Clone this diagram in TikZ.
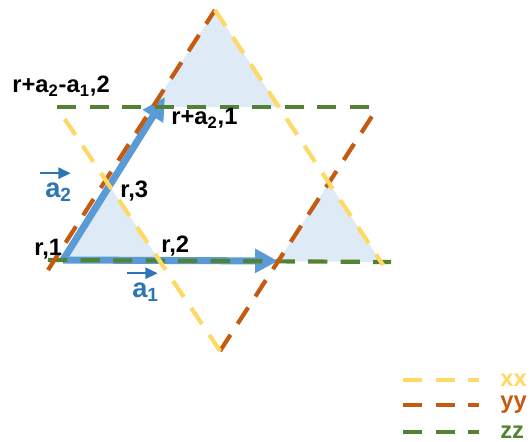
\documentclass[tikz,border=0pt]{standalone}
\usepackage{fontspec}
\setmainfont{Liberation Sans}
\usetikzlibrary{arrows.meta}
\definecolor{xxyellow}{RGB}{255,217,102}
\definecolor{yyorange}{RGB}{197,90,17}
\definecolor{zzgreen}{RGB}{84,130,53}
\definecolor{vecblue}{RGB}{91,155,213}
\definecolor{vectext}{RGB}{46,117,182}
\definecolor{cellfill}{RGB}{222,235,247}
\tikzset{
  bond/.style={line width=2.4pt,dash pattern=on 11pt off 7.5pt},
  xxbond/.style={bond,draw=xxyellow},
  yybond/.style={bond,draw=yyorange},
  zzbond/.style={bond,draw=zzgreen},
  cell/.style={fill=cellfill},
  latvec/.style={draw=vecblue,line width=4pt,-{Triangle[length=13pt,width=13pt]}},
  sitelbl/.style={font=\fontsize{13.5}{15}\selectfont\bfseries,inner sep=0pt,anchor=base west},
  veclbl/.style={sitelbl,font=\fontsize{15.5}{17}\selectfont\bfseries,text=vectext},
  overvec/.style={draw=vectext,line width=1pt,-{Triangle[length=7pt,width=6.5pt]}},
  keylbl/.style={font=\fontsize{13.5}{15}\selectfont\bfseries,inner sep=0pt,anchor=base west},
}
\begin{document}
\begin{tikzpicture}[x=0.02cm,y=-0.02cm]
  \useasboundingbox (0,0) rectangle (530,442);
  % corners of the two big triangles
  \coordinate (top) at (215,10);
  \coordinate (bot) at (220,351);
  \coordinate (zzA) at (57,107);
  \coordinate (zzB) at (382,107);
  \coordinate (zzC) at (48,260);
  \coordinate (zzD) at (391,262);
  \coordinate (yyA) at (48,270);
  \coordinate (yyB) at (378,107);
  \coordinate (xxA) at (58,109);
  \coordinate (xxB) at (383,265);
  \coordinate (r1) at (63,260);
  \coordinate (a1tip) at (278,261);
  \coordinate (a2tip) at (165,97);
  % shaded triangles
  \fill[cell] (top) -- (intersection of yyA--top and zzA--zzB) -- (intersection of top--xxB and zzA--zzB) -- cycle;
  \fill[cell] (r1) -- (intersection of xxA--bot and zzC--zzD) -- (intersection of xxA--bot and r1--a2tip) -- cycle;
  \fill[cell] (intersection of yyB--bot and zzC--zzD) -- (intersection of top--xxB and zzC--zzD) -- (intersection of yyB--bot and top--xxB) -- cycle;
  % lattice vectors
  \draw[latvec] (r1) -- (a1tip);
  \draw[latvec] (r1) -- (a2tip);
  % bonds
  \draw[zzbond] (zzA) -- (zzB);
  \draw[zzbond] (zzC) -- (zzD);
  \draw[yybond] (yyA) -- (top);
  \draw[yybond] (bot) -- (yyB);
  \draw[xxbond] (bot) -- (xxA);
  \draw[xxbond] (top) -- (xxB);
  % labels
  \node[sitelbl] (s1) at (34,255) {r,1};
  \node[sitelbl] (s2) at (161,252) {r,2};
  \node[sitelbl] (s3) at (120,197) {r,3};
  \node[sitelbl] (sa2) at (171,125) {r+a\textsubscript{2},1};
  \node[sitelbl] (sa2a1) at (12,93) {r+a\textsubscript{2}-a\textsubscript{1},2};
  \node[veclbl] (a2lbl) at (45,197) {a\textsubscript{2}};
  \node[veclbl] (a1lbl) at (132,297) {a\textsubscript{1}};
  \draw[overvec] ([xshift=-3pt,yshift=5pt]a2lbl.north west) -- ([xshift=-1pt,yshift=5pt]a2lbl.north east);
  \draw[overvec] ([xshift=-3pt,yshift=5pt]a1lbl.north west) -- ([xshift=-1pt,yshift=5pt]a1lbl.north east);
  % legend
  \node[keylbl,text=xxyellow] (xxkey) at (500,386) {xx};
  \node[keylbl,text=yyorange] (yykey) at (500,408) {yy};
  \node[keylbl,text=zzgreen] (zzkey) at (500,438) {zz};
  \coordinate (xxs) at (403,380);
  \coordinate (yys) at (403,405);
  \coordinate (zzs) at (403,432);
  \draw[xxbond] (xxs) -- ++(76,0);
  \draw[yybond] (yys) -- ++(76,0);
  \draw[zzbond] (zzs) -- ++(76,0);
\end{tikzpicture}
\end{document}
